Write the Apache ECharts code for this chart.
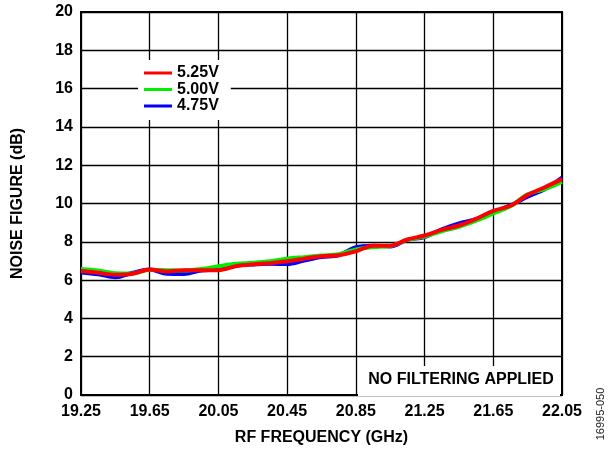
<!DOCTYPE html>
<html>
<head>
<meta charset="utf-8">
<script src="https://cdn.jsdelivr.net/npm/echarts@6/dist/echarts.min.js"></script>
<style>
html,body{margin:0;padding:0;background:#fff;}
#chart{width:612px;height:451px;}
</style>
</head>
<body>
<div id="chart"></div>
<script>
// Data (frequency in GHz, noise figure in dB)
const BASE = 19.25;
const freqs = [19.25,19.35,19.45,19.55,19.65,19.75,19.85,19.95,20.05,20.15,20.25,20.35,20.45,20.55,20.65,20.75,20.85,20.95,21.05,21.15,21.25,21.35,21.45,21.55,21.65,21.75,21.85,21.95,22.05];
const nf525 = [6.48,6.38,6.28,6.33,6.56,6.45,6.52,6.52,6.52,6.72,6.82,6.88,6.98,7.12,7.25,7.30,7.50,7.80,7.80,8.12,8.33,8.62,8.85,9.20,9.62,9.88,10.45,10.85,11.27];
const nf500 = [6.58,6.50,6.36,6.35,6.54,6.52,6.50,6.58,6.72,6.85,6.90,6.98,7.12,7.20,7.28,7.35,7.60,7.72,7.78,8.10,8.28,8.55,8.78,9.10,9.48,9.85,10.48,10.75,11.13];
const nf475 = [6.40,6.30,6.15,6.38,6.55,6.33,6.32,6.50,6.55,6.75,6.82,6.85,6.84,7.02,7.20,7.30,7.72,7.80,7.75,8.10,8.25,8.65,8.96,9.18,9.55,9.90,10.35,10.75,11.35];
const seriesNames = ['5.25V','5.00V','4.75V'];
const seriesColors = ['#ff0000','#00ee00','#0000ff'];
const xTickStep = 0.4;
const xSpan = 2.8;

const FONT = 'Liberation Sans, Arial, sans-serif';
function toPairs(vals){ return freqs.map((f,i)=>[+(f-BASE).toFixed(4), vals[i]]); }

const chart = echarts.init(document.getElementById('chart'), null, {renderer:'canvas'});
const lineSeries = (name, color, vals) => ({
  name, type:'line', data: toPairs(vals), smooth:0.35, symbol:'none',
  lineStyle:{color, width:4}, itemStyle:{color}
});
chart.setOption({
  animation:false,
  backgroundColor:'#fff',
  grid:{left:81, right:50, top:12, bottom:53, show:true, borderColor:'#000', borderWidth:2, backgroundColor:'transparent'},
  xAxis:{
    type:'value', min:0, max:xSpan, interval:xTickStep,
    name:'RF FREQUENCY (GHz)', nameLocation:'middle', nameGap:35,
    nameTextStyle:{fontFamily:FONT, fontWeight:'bold', fontSize:16, color:'#000'},
    axisLine:{show:true, lineStyle:{color:'#000', width:2}},
    axisTick:{show:false},
    axisLabel:{fontFamily:FONT, fontWeight:'bold', fontSize:16, color:'#000', margin:9,
      formatter:v=>(BASE+v).toFixed(2)},
    splitLine:{show:true, lineStyle:{color:'#000', width:1.3}}
  },
  yAxis:{
    type:'value', min:0, max:20, interval:2,
    name:'NOISE FIGURE (dB)', nameLocation:'middle', nameGap:55,
    nameTextStyle:{fontFamily:FONT, fontWeight:'bold', fontSize:16, color:'#000'},
    axisLine:{show:true, lineStyle:{color:'#000', width:2}},
    axisTick:{show:false},
    axisLabel:{fontFamily:FONT, fontWeight:'bold', fontSize:16, color:'#000', margin:8},
    splitLine:{show:true, lineStyle:{color:'#000', width:1.3}}
  },
  legend:{
    data:seriesNames, orient:'vertical', left:138, top:60,
    backgroundColor:'#fff', padding:[5,12,6,6], itemGap:0.5,
    icon:'rect', itemWidth:28, itemHeight:3,
    textStyle:{fontFamily:FONT, fontWeight:'bold', fontSize:16, color:'#000', lineHeight:16}
  },
  graphic:[
    {type:'rect', shape:{x:358, y:366, width:202, height:30}, style:{fill:'#fff'}, z:50},
    {type:'text', x:461, y:380, z:51, style:{text:'NO FILTERING APPLIED', fontFamily:FONT, fontWeight:'bold', fontSize:16, fill:'#000', align:'center', verticalAlign:'middle'}},
    {type:'text', x:601, y:414, rotation:Math.PI/2, z:51, style:{text:'16995-050', fontFamily:FONT, fontSize:11, fill:'#222', align:'center', verticalAlign:'middle'}}
  ],
  series:[
    lineSeries(seriesNames[2], seriesColors[2], nf475),
    lineSeries(seriesNames[1], seriesColors[1], nf500),
    lineSeries(seriesNames[0], seriesColors[0], nf525)
  ]
});
</script>
</body>
</html>
